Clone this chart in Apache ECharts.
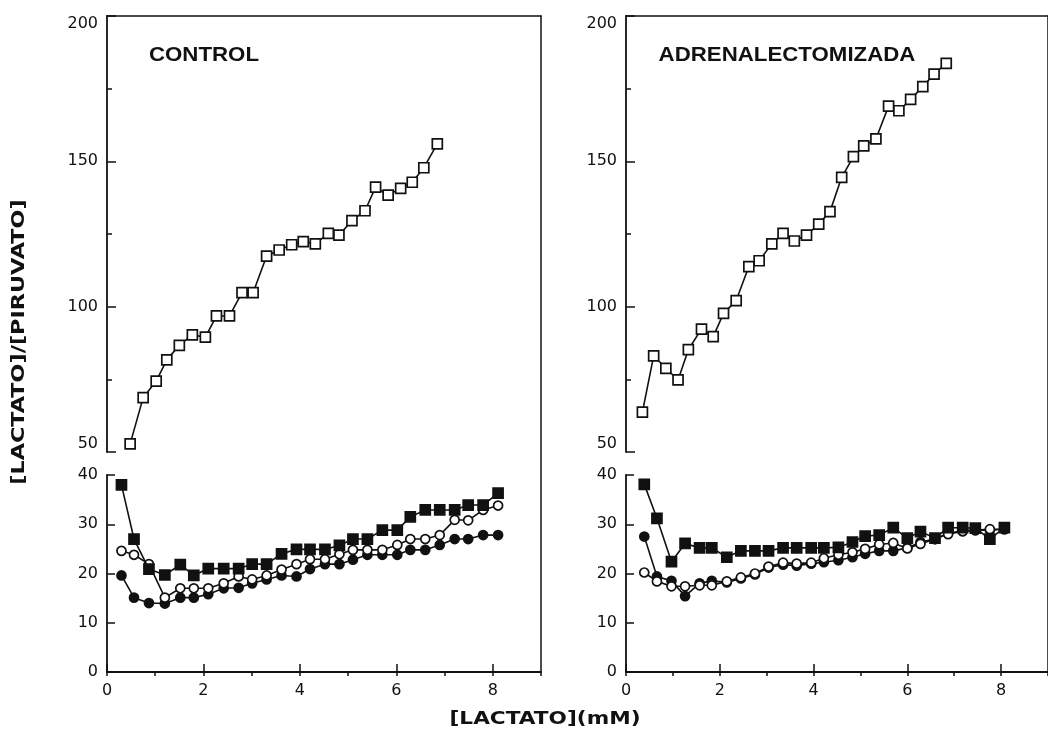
<!DOCTYPE html>
<html>
<head>
<meta charset="utf-8">
<script src="https://cdn.jsdelivr.net/npm/echarts@6/dist/echarts.min.js"></script>
<style>
  html, body { margin: 0; padding: 0; background: #ffffff; }
  #chart { width: 1048px; height: 738px; }
</style>
</head>
<body>
<div id="chart"></div>
<script>
// ---- CONTROL ----
// [lactato]/[piruvato] ratio, upper scale (open squares)
const ctrlUpperX = [0.48, 0.75, 1.02, 1.24, 1.50, 1.77, 2.04, 2.27, 2.54, 2.80, 3.03, 3.31, 3.57,
  3.83, 4.07, 4.32, 4.59, 4.81, 5.08, 5.35, 5.57, 5.83, 6.09, 6.33, 6.57, 6.85];
const ctrlOpenSquares = [52.8, 68.7, 74.4, 81.7, 86.7, 90.3, 89.5, 96.8, 96.8, 104.8, 104.8, 117.4, 119.5,
  121.3, 122.4, 121.6, 125.2, 124.6, 129.6, 133.0, 141.1, 138.4, 140.7, 142.8, 147.8, 156.0];
// lower scale series
const ctrlX = [0.30, 0.56, 0.87, 1.20, 1.52, 1.80, 2.10, 2.42, 2.73, 3.01, 3.31, 3.62, 3.93, 4.21,
  4.52, 4.82, 5.10, 5.40, 5.71, 6.02, 6.29, 6.60, 6.90, 7.21, 7.49, 7.80, 8.11];
const ctrlFilledSquares = [38.0, 27.0, 20.9, 19.7, 21.8, 19.6, 21.0, 21.0, 21.0, 21.9, 21.9, 24.0, 24.9, 24.9,
  24.9, 25.7, 27.0, 27.0, 28.8, 28.8, 31.5, 32.9, 32.9, 32.9, 33.9, 33.9, 36.3];
const ctrlOpenCircles = [24.6, 23.8, 21.9, 15.1, 17.0, 17.0, 17.0, 18.0, 19.4, 18.8, 19.6, 20.8, 21.9, 22.9,
  22.9, 23.9, 24.8, 24.8, 24.8, 25.8, 27.0, 27.0, 27.8, 30.9, 30.8, 32.9, 33.8];
const ctrlFilledCircles = [19.6, 15.1, 14.0, 13.9, 15.1, 15.1, 15.8, 17.0, 17.1, 18.0, 18.8, 19.6, 19.4, 20.9,
  21.9, 21.9, 22.8, 23.8, 23.8, 23.8, 24.8, 24.8, 25.8, 27.0, 27.0, 27.8, 27.8];

// ---- ADRENALECTOMIZADA ----
const adrUpperX = [0.35, 0.59, 0.85, 1.11, 1.33, 1.61, 1.86, 2.08, 2.35, 2.62, 2.84, 3.11, 3.35, 3.59,
  3.85, 4.11, 4.35, 4.60, 4.85, 5.07, 5.33, 5.60, 5.82, 6.07, 6.33, 6.57, 6.83];
const adrOpenSquares = [63.7, 83.1, 78.8, 74.8, 85.2, 92.3, 89.7, 97.7, 102.1, 113.8, 115.8, 121.6, 125.2, 122.6,
  124.6, 128.4, 132.7, 144.5, 151.6, 155.3, 157.7, 169.0, 167.4, 171.3, 175.7, 180.0, 183.7];
const adrX = [0.39, 0.66, 0.97, 1.26, 1.57, 1.83, 2.15, 2.45, 2.75, 3.04, 3.35, 3.64, 3.95, 4.22,
  4.53, 4.83, 5.10, 5.40, 5.70, 6.00, 6.28, 6.59, 6.87, 7.18, 7.45, 7.76, 8.07];
const adrFilledSquares = [38.1, 31.2, 22.4, 26.1, 25.2, 25.2, 23.3, 24.6, 24.6, 24.6, 25.2, 25.2, 25.2, 25.2,
  25.3, 26.4, 27.6, 27.8, 29.3, 27.2, 28.5, 27.2, 29.3, 29.3, 29.2, 27.0, 29.3];
const adrOpenCircles = [20.2, 18.4, 17.4, 17.4, 17.6, 17.6, 18.4, 19.2, 20.0, 21.4, 22.2, 22.0, 22.2, 23.1,
  23.8, 24.3, 25.0, 25.9, 26.2, 25.1, 26.0, 27.0, 28.0, 28.6, 28.8, 29.0, 29.0];
const adrFilledCircles = [27.5, 19.4, 18.5, 15.4, 18.0, 18.5, 18.2, 19.0, 19.8, 21.2, 21.8, 21.6, 22.0, 22.3,
  22.7, 23.3, 24.0, 24.6, 24.6, 25.2, 26.4, 27.0, 28.2, 28.6, 28.8, 28.8, 29.0];

// ---- axis ticks and labels ----
const upperYTicks = [50, 100, 150, 200];
const lowerYTicks = [0, 10, 20, 30, 40];
const xTicks = [0, 2, 4, 6, 8];
const xMax = 9;
const panelTitles = ['CONTROL', 'ADRENALECTOMIZADA'];
const xName = '[LACTATO](mM)';
const yName = '[LACTATO]/[PIRUVATO]';

const INK = '#111111';
const LABEL_FONT = 'DejaVu Sans';

function pairs(xs, ys) { return xs.map((x, i) => [x, ys[i]]); }

function lineSeries(xs, ys, xi, yi, symbol, filled, z) {
  return {
    type: 'line',
    xAxisIndex: xi,
    yAxisIndex: yi,
    data: pairs(xs, ys),
    symbol: symbol,
    symbolSize: symbol === 'rect' ? 10 : 9,
    showSymbol: true,
    showAllSymbol: true,
    lineStyle: { color: INK, width: 1.6 },
    itemStyle: { color: filled ? INK : '#ffffff', borderColor: INK, borderWidth: 1.7 },
    emphasis: { disabled: true },
    silent: true,
    animation: false,
    z: z
  };
}

const step = (arr) => arr[1] - arr[0];

function upperY(gi) {
  return {
    gridIndex: gi, type: 'value',
    min: upperYTicks[0], max: upperYTicks[upperYTicks.length - 1], interval: step(upperYTicks),
    axisLine: { show: true, lineStyle: { color: INK, width: 1.8 } },
    axisTick: { show: true, inside: true, length: 9, lineStyle: { color: INK, width: 1.5 } },
    minorTick: { show: true, splitNumber: 2, length: 5, lineStyle: { color: INK, width: 1.5 } },
    axisLabel: { show: true, margin: 9, color: INK, fontFamily: LABEL_FONT, fontSize: 16,
      verticalAlignMinLabel: 'bottom', verticalAlignMaxLabel: 'top' },
    splitLine: { show: false }
  };
}
function lowerY(gi) {
  return {
    gridIndex: gi, type: 'value',
    min: lowerYTicks[0], max: lowerYTicks[lowerYTicks.length - 1], interval: step(lowerYTicks),
    axisLine: { show: true, lineStyle: { color: INK, width: 1.8 } },
    axisTick: { show: true, inside: true, length: 8, lineStyle: { color: INK, width: 1.5 } },
    axisLabel: { show: true, margin: 9, color: INK, fontFamily: LABEL_FONT, fontSize: 16 },
    splitLine: { show: false }
  };
}
function hiddenX(gi) {
  return { gridIndex: gi, type: 'value', min: 0, max: xMax, show: false };
}
function mainX(gi) {
  return {
    gridIndex: gi, type: 'value', min: xTicks[0], max: xMax, interval: step(xTicks),
    axisLine: { show: true, onZero: false, lineStyle: { color: INK, width: 1.8 } },
    axisTick: { show: true, inside: true, length: 8, lineStyle: { color: INK, width: 1.5 } },
    axisLabel: { show: true, margin: 11, showMaxLabel: false, color: INK, fontFamily: LABEL_FONT, fontSize: 16 },
    splitLine: { show: false }
  };
}
function minorX(gi) {
  return {
    gridIndex: gi, type: 'value', min: xTicks[0], max: xMax, interval: step(xTicks) / 2,
    axisLine: { show: false },
    axisTick: { show: true, inside: true, length: 4, lineStyle: { color: INK, width: 1.5 } },
    axisLabel: { show: false },
    splitLine: { show: false }
  };
}
function frameX(gi) {
  return {
    gridIndex: gi, type: 'value', position: 'top', min: 0, max: 1,
    axisLine: { show: true, onZero: false, lineStyle: { color: INK, width: 1.5 } },
    axisTick: { show: false }, axisLabel: { show: false }, splitLine: { show: false }
  };
}
function frameY(gi) {
  return {
    gridIndex: gi, type: 'value', position: 'right', min: 0, max: 1,
    axisLine: { show: true, onZero: false, lineStyle: { color: INK, width: 1.5 } },
    axisTick: { show: false }, axisLabel: { show: false }, splitLine: { show: false }
  };
}

const option = {
  backgroundColor: '#ffffff',
  animation: false,
  grid: [
    { left: 107, top: 16, width: 434, height: 436 },   // 0 control, upper scale
    { left: 107, top: 475, width: 434, height: 197 },  // 1 control, lower scale
    { left: 626, top: 16, width: 435, height: 436 },   // 2 adrenalectomized, upper scale
    { left: 626, top: 475, width: 435, height: 197 },  // 3 adrenalectomized, lower scale
    { left: 107, top: 16, width: 434, height: 656 },   // 4 control frame
    { left: 626, top: 16, width: 435, height: 656 }    // 5 adrenalectomized frame
  ],
  xAxis: [
    hiddenX(0), mainX(1), minorX(1),
    hiddenX(2), mainX(3), minorX(3),
    frameX(4), frameX(5)
  ],
  yAxis: [
    upperY(0), lowerY(1), upperY(2), lowerY(3),
    frameY(4), frameY(5)
  ],
  series: [
    lineSeries(ctrlUpperX, ctrlOpenSquares, 0, 0, 'rect', false, 3),
    lineSeries(ctrlX, ctrlFilledCircles, 1, 1, 'circle', true, 2),
    lineSeries(ctrlX, ctrlOpenCircles, 1, 1, 'circle', false, 3),
    lineSeries(ctrlX, ctrlFilledSquares, 1, 1, 'rect', true, 4),
    lineSeries(adrUpperX, adrOpenSquares, 3, 2, 'rect', false, 3),
    lineSeries(adrX, adrFilledCircles, 4, 3, 'circle', true, 2),
    lineSeries(adrX, adrOpenCircles, 4, 3, 'circle', false, 3),
    lineSeries(adrX, adrFilledSquares, 4, 3, 'rect', true, 4)
  ],
  graphic: [
    { type: 'text', x: 204, y: 55, scaleX: 1.06, silent: true,
      style: { text: panelTitles[0], font: 'bold 21px "Liberation Sans"', fill: INK, align: 'center', verticalAlign: 'middle' } },
    { type: 'text', x: 787, y: 55, scaleX: 1.06, silent: true,
      style: { text: panelTitles[1], font: 'bold 21px "Liberation Sans"', fill: INK, align: 'center', verticalAlign: 'middle' } },
    { type: 'text', x: 545, y: 719, scaleX: 1.2, silent: true,
      style: { text: xName, font: 'bold 18px "DejaVu Sans"', fill: INK, align: 'center', verticalAlign: 'middle' } },
    { type: 'text', x: 19, y: 342, rotation: Math.PI / 2, scaleX: 1.24, silent: true,
      style: { text: yName, font: 'bold 18px "DejaVu Sans"', fill: INK, align: 'center', verticalAlign: 'middle' } }
  ]
};

const chart = echarts.init(document.getElementById('chart'), null, { renderer: 'canvas', width: 1048, height: 738 });
chart.setOption(option);
</script>
</body>
</html>
